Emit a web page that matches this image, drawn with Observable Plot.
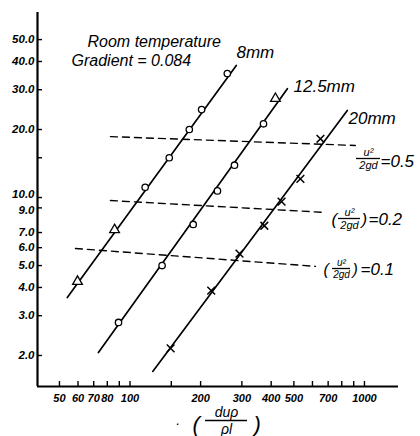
<!DOCTYPE html>
<html><head><meta charset="utf-8">
<script src="https://cdn.jsdelivr.net/npm/d3@7"></script>
<script src="https://cdn.jsdelivr.net/npm/@observablehq/plot@0.6"></script>
<style>
html,body{margin:0;padding:0;background:#fff;}
svg{overflow:visible}
svg text{font-style:italic;}
</style>
</head><body><div id="chart"></div>
<script>
// ---- scales / ticks ----
const xDomain = [40.3, 1397];
const yDomain = [1.458, 65.9];
const xTicks = [50,60,70,80,90,100,150,200,300,400,500,600,700,800,900,1000];
const xTickLabels = [50,60,70,80,100,200,300,400,500,700,1000];
const yTicks = [2,3,4,5,6,7,9,10,15,20,30,40,50];
const yTickLabels = [2,3,4,5,6,7,20,30,40,50];
const yTickLabelTen = [10];
const yTickLabelNine = [9];

// ---- fitted lines (endpoints) ----
const line8mm  = [{x:54, y:3.61}, {x:284, y:38.4}];
const line12mm = [{x:73.3, y:2.06}, {x:469, y:30.3}];
const line20mm = [{x:125, y:1.70}, {x:845, y:24.3}];

// ---- measured points ----
const pts8Tri    = [{x:59.7, y:4.25}, {x:85.9, y:7.2}];
const pts8Circ   = [{x:116, y:11.1}, {x:147, y:15.0}, {x:179, y:20.0}, {x:202, y:24.5}, {x:260, y:35.4}];
const pts12Circ  = [{x:89.3, y:2.80}, {x:137, y:5.0}, {x:186, y:7.6}, {x:236, y:10.7}, {x:279, y:13.9}, {x:371, y:21.2}];
const pts12Tri   = [{x:417, y:27.4}];
const pts20Cross = [{x:149, y:2.15}, {x:222, y:3.87}, {x:293, y:5.65}, {x:374, y:7.5}, {x:443, y:9.6}, {x:533, y:12.1}, {x:649, y:18.2}];

// ---- constant u^2/2gd dashed lines ----
const dash05 = [{x:82.5, y:18.6}, {x:914, y:17.0}];
const dash02 = [{x:82.5, y:9.7},  {x:668, y:8.6}];
const dash01 = [{x:58.5, y:5.95}, {x:618, y:4.96}];

// ---- layout ----
const W = 420, H = 436, mL = 37, mR = 22, mT = 12, mB = 50;
const fw = W - mL - mR, fh = H - mT - mB;
const FONT = "'Liberation Sans',Arimo,sans-serif";
// pixel -> data helpers for placing annotation strokes
const xs = d3.scaleLog().domain(xDomain).range([mL, W - mR]);
const ys = d3.scaleLog().domain(yDomain).range([H - mB, mT]);

function at(px, py) { return {frameAnchor: "top-left", dx: px - mL, dy: py - mT}; }
function label(str, px, py, size, anchor = "start", extra = {}) {
  return Plot.text([str], {...at(px, py), text: d => d, fontSize: size, textAnchor: anchor,
    lineAnchor: "middle", fontFamily: FONT, fontStyle: "italic", fill: "black", ...extra});
}
function bar(px, py, w) {
  return Plot.ruleY([ys.invert(py)], {x1: xs.invert(px - w / 2), x2: xs.invert(px + w / 2),
    stroke: "black", strokeWidth: 1.3});
}
function frac(cx, cy, num, den, size, w) {
  return [
    label(num, cx, cy - size * 0.58, size, "middle"),
    bar(cx, cy, w),
    label(den, cx, cy + size * 0.62, size, "middle")
  ];
}
function yLabels(data, dy) {
  return Plot.text(data, {y: d => d, x: () => xDomain[0], dx: -3, dy, text: d => d.toFixed(1),
    textAnchor: "end", lineAnchor: "middle", fontSize: 11.5, fontWeight: "bold", fontStyle: "italic", fill: "black"});
}

const lineStyle = {x: "x", y: "y", stroke: "black", strokeWidth: 1.7};
const dashStyle = {x: "x", y: "y", stroke: "black", strokeWidth: 1.4, strokeDasharray: "7,5"};

const chart = Plot.plot({
  width: W, height: H,
  marginLeft: mL, marginRight: mR, marginTop: mT, marginBottom: mB,
  style: {fontFamily: FONT, background: "white", color: "black"},
  x: {type: "log", domain: xDomain, label: null, axis: null},
  y: {type: "log", domain: yDomain, label: null, axis: null},
  marks: [
    // axes lines
    Plot.ruleX([xDomain[0]], {stroke: "black", strokeWidth: 2.2}),
    Plot.ruleY([yDomain[0]], {stroke: "black", strokeWidth: 2.2}),
    // inward ticks
    Plot.tickY(yTicks, {y: d => d, stroke: "black", strokeWidth: 1.4, insetRight: fw - 5}),
    Plot.tickX(xTicks, {x: d => d, stroke: "black", strokeWidth: 1.4, insetTop: fh - 5}),
    // tick labels
    yLabels(yTickLabels, 0),
    yLabels(yTickLabelTen, -3),
    yLabels(yTickLabelNine, 2),
    Plot.text(xTickLabels, {x: d => d, y: () => yDomain[0], dy: 12, text: d => String(d),
      textAnchor: "middle", lineAnchor: "middle", fontSize: 11, fontWeight: "bold", fontStyle: "italic", fill: "black"}),
    // dashed constant lines
    Plot.line(dash05, dashStyle),
    Plot.line(dash02, dashStyle),
    Plot.line(dash01, dashStyle),
    // data lines
    Plot.line(line8mm, lineStyle),
    Plot.line(line12mm, lineStyle),
    Plot.line(line20mm, lineStyle),
    // points
    Plot.dot(pts8Tri, {x: "x", y: "y", symbol: "triangle", r: 3.6, stroke: "black", fill: "white", strokeWidth: 1.3}),
    Plot.dot(pts8Circ, {x: "x", y: "y", symbol: "circle", r: 3.2, stroke: "black", fill: "white", strokeWidth: 1.3}),
    Plot.dot(pts12Circ, {x: "x", y: "y", symbol: "circle", r: 3.2, stroke: "black", fill: "white", strokeWidth: 1.3}),
    Plot.dot(pts12Tri, {x: "x", y: "y", symbol: "triangle", r: 3.6, stroke: "black", fill: "white", strokeWidth: 1.3}),
    Plot.dot(pts20Cross, {x: "x", y: "y", symbol: "times", r: 3.6, stroke: "black", strokeWidth: 1.5}),
    // annotations
    label("Room temperature", 87, 41, 16),
    label("Gradient = 0.084", 71, 60, 16),
    label("8mm", 236, 52, 17),
    label("12.5mm", 293, 86, 17),
    label("20mm", 348, 118, 17),
    // u^2/2gd = 0.5
    ...frac(368, 158, "u²", "2gd", 11, 24),
    label("=0.5", 380, 161, 17),
    // (u^2/2gd) = 0.2
    label("(", 331, 219, 17),
    ...frac(349, 218, "u²", "2gd", 11, 22),
    label(")", 361, 219, 17),
    label("=0.2", 368, 219, 17),
    // (u^2/2gd) = 0.1
    label("(", 323, 269, 16),
    ...frac(341, 268, "u²", "2gd", 10, 18),
    label(")", 352, 269, 16),
    label("=0.1", 360, 269, 17),
    // x-axis title
    label("·", 177, 423, 14, "middle"),
    label("(", 192, 424, 22),
    ...frac(226, 420, "duρ", "ρl", 14, 42),
    label(")", 253, 424, 22)
  ]
});
document.getElementById("chart").appendChild(chart);
</script>
</body></html>
